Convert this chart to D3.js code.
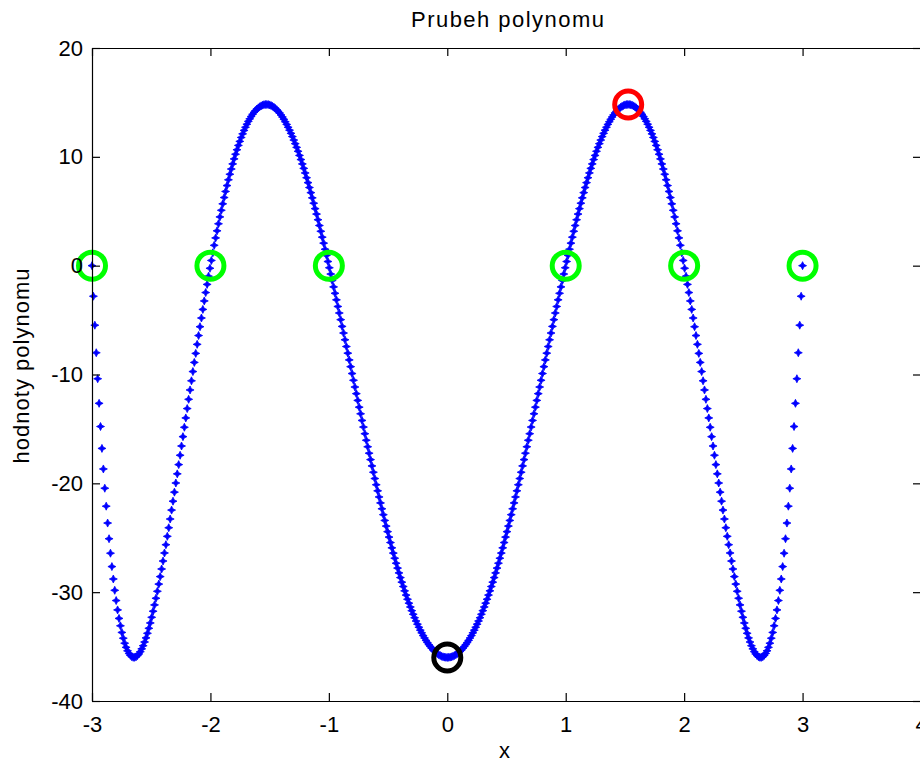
<!DOCTYPE html>
<html>
<head>
<meta charset="utf-8">
<script src="https://cdn.jsdelivr.net/npm/d3@7/dist/d3.min.js"></script>
<style>
  html, body { margin: 0; padding: 0; background: #ffffff; }
  svg { display: block; }
  text { font-family: "Liberation Sans", Arial, sans-serif; fill: #000; }
</style>
</head>
<body>
<svg id="chart" width="920" height="764"></svg>
<script>
// Sample grid: x runs from xStart in steps of xStep, one entry per value below
const xStart = -3;
const xStep = 0.012;

// Polynomial values at each sample (x = -3 ... 3)
const yValues = [
  0, -2.81, -5.47, -8.00, -10.39, -12.65, -14.78, -16.79, -18.68, -20.45, -22.10,
  -23.65, -25.09, -26.42, -27.65, -28.79, -29.83, -30.77, -31.63, -32.41, -33.09,
  -33.70, -34.23, -34.69, -35.07, -35.39, -35.63, -35.81, -35.93, -35.99, -35.99,
  -35.94, -35.83, -35.67, -35.47, -35.21, -34.92, -34.58, -34.20, -33.78, -33.32,
  -32.83, -32.31, -31.75, -31.17, -30.56, -29.92, -29.26, -28.57, -27.87, -27.14,
  -26.40, -25.64, -24.87, -24.08, -23.28, -22.46, -21.64, -20.81, -19.97, -19.13,
  -18.28, -17.42, -16.57, -15.71, -14.85, -13.99, -13.13, -12.28, -11.42, -10.58,
  -9.73, -8.89, -8.06, -7.23, -6.42, -5.61, -4.81, -4.02, -3.24, -2.47,
  -1.72, -0.97, -0.24, 0.48, 1.18, 1.87, 2.55, 3.20, 3.85, 4.48,
  5.09, 5.68, 6.26, 6.82, 7.36, 7.89, 8.40, 8.88, 9.35, 9.81,
  10.24, 10.65, 11.05, 11.42, 11.78, 12.11, 12.43, 12.72, 13.00, 13.26,
  13.49, 13.71, 13.91, 14.09, 14.25, 14.39, 14.50, 14.60, 14.68, 14.75,
  14.79, 14.81, 14.81, 14.80, 14.77, 14.71, 14.64, 14.56, 14.45, 14.33,
  14.18, 14.03, 13.85, 13.66, 13.45, 13.22, 12.98, 12.72, 12.45, 12.16,
  11.86, 11.54, 11.21, 10.87, 10.51, 10.13, 9.75, 9.35, 8.94, 8.52,
  8.08, 7.63, 7.18, 6.71, 6.23, 5.74, 5.24, 4.74, 4.22, 3.69,
  3.16, 2.62, 2.07, 1.51, 0.95, 0.38, -0.19, -0.77, -1.36, -1.95,
  -2.54, -3.14, -3.75, -4.35, -4.96, -5.58, -6.19, -6.81, -7.43, -8.04,
  -8.66, -9.28, -9.91, -10.53, -11.15, -11.76, -12.38, -13.00, -13.61, -14.22,
  -14.83, -15.44, -16.04, -16.64, -17.23, -17.82, -18.40, -18.98, -19.56, -20.13,
  -20.69, -21.25, -21.80, -22.34, -22.88, -23.41, -23.93, -24.44, -24.94, -25.44,
  -25.93, -26.41, -26.88, -27.34, -27.79, -28.23, -28.66, -29.08, -29.48, -29.88,
  -30.27, -30.65, -31.01, -31.36, -31.70, -32.03, -32.35, -32.65, -32.94, -33.22,
  -33.49, -33.74, -33.99, -34.21, -34.43, -34.63, -34.82, -34.99, -35.15, -35.30,
  -35.43, -35.55, -35.65, -35.75, -35.82, -35.89, -35.94, -35.97, -35.99,
  -36.00, -35.99, -35.97, -35.94, -35.89, -35.82, -35.75, -35.65, -35.55, -35.43,
  -35.30, -35.15, -34.99, -34.82, -34.63, -34.43, -34.21, -33.99, -33.74, -33.49,
  -33.22, -32.94, -32.65, -32.35, -32.03, -31.70, -31.36, -31.01, -30.65, -30.27,
  -29.88, -29.48, -29.08, -28.66, -28.23, -27.79, -27.34, -26.88, -26.41, -25.93,
  -25.44, -24.94, -24.44, -23.93, -23.41, -22.88, -22.34, -21.80, -21.25, -20.69,
  -20.13, -19.56, -18.98, -18.40, -17.82, -17.23, -16.64, -16.04, -15.44, -14.83,
  -14.22, -13.61, -13.00, -12.38, -11.76, -11.15, -10.53, -9.91, -9.28, -8.66,
  -8.04, -7.43, -6.81, -6.19, -5.58, -4.96, -4.35, -3.75, -3.14, -2.54,
  -1.95, -1.36, -0.77, -0.19, 0.38, 0.95, 1.51, 2.07, 2.62, 3.16,
  3.69, 4.22, 4.74, 5.24, 5.74, 6.23, 6.71, 7.18, 7.63, 8.08,
  8.52, 8.94, 9.35, 9.75, 10.13, 10.51, 10.87, 11.21, 11.54, 11.86,
  12.16, 12.45, 12.72, 12.98, 13.22, 13.45, 13.66, 13.85, 14.03, 14.18,
  14.33, 14.45, 14.56, 14.64, 14.71, 14.77, 14.80, 14.81, 14.81, 14.79,
  14.75, 14.68, 14.60, 14.50, 14.39, 14.25, 14.09, 13.91, 13.71, 13.49,
  13.26, 13.00, 12.72, 12.43, 12.11, 11.78, 11.42, 11.05, 10.65, 10.24,
  9.81, 9.35, 8.88, 8.40, 7.89, 7.36, 6.82, 6.26, 5.68, 5.09,
  4.48, 3.85, 3.20, 2.55, 1.87, 1.18, 0.48, -0.24, -0.97, -1.72,
  -2.47, -3.24, -4.02, -4.81, -5.61, -6.42, -7.23, -8.06, -8.89, -9.73,
  -10.58, -11.42, -12.28, -13.13, -13.99, -14.85, -15.71, -16.57, -17.42, -18.28,
  -19.13, -19.97, -20.81, -21.64, -22.46, -23.28, -24.08, -24.87, -25.64, -26.40,
  -27.14, -27.87, -28.57, -29.26, -29.92, -30.56, -31.17, -31.75, -32.31, -32.83,
  -33.32, -33.78, -34.20, -34.58, -34.92, -35.21, -35.47, -35.67, -35.83, -35.94,
  -35.99, -35.99, -35.93, -35.81, -35.63, -35.39, -35.07, -34.69, -34.23, -33.70,
  -33.09, -32.41, -31.63, -30.77, -29.83, -28.79, -27.65, -26.42, -25.09, -23.65,
  -22.10, -20.45, -18.68, -16.79, -14.78, -12.65, -10.39, -8.00, -5.47, -2.81, 0
];

// Highlighted points: roots, maximum, minimum
const rootsX = [-3, -2, -1, 1, 2, 3];
const rootsY = [0, 0, 0, 0, 0, 0];
const maxPoint = [1.5275, 14.81];
const minPoint = [0, -36];

// Axis ticks and texts
const xTicks = [-3, -2, -1, 0, 1, 2, 3, 4];
const yTicks = [-40, -30, -20, -10, 0, 10, 20];
const titleText = "Prubeh polynomu";
const xLabelText = "x";
const yLabelText = "hodnoty polynomu";

const svg = d3.select("#chart");
const plotLeft = 92, plotRight = 921, plotTop = 48, plotBottom = 701;

const x = d3.scaleLinear().domain([-3, 4]).range([plotLeft, plotRight]);
const y = d3.scaleLinear().domain([-40, 20]).range([plotBottom, plotTop]);

const points = yValues.map((v, i) => ({ x: xStart + i * xStep, y: v }));

// Blue sample markers (small four-pointed stars)
const marker = "M0,-4L1.3,-1.3L4,0L1.3,1.3L0,4L-1.3,1.3L-4,0L-1.3,-1.3Z";
svg.append("g")
  .selectAll("path")
  .data(points)
  .join("path")
  .attr("d", marker)
  .attr("transform", d => `translate(${x(d.x)},${y(d.y)})`)
  .attr("fill", "#0000ff")
  .attr("stroke", "#0000ff")
  .attr("stroke-width", 0.8)
  .attr("stroke-linejoin", "round");

// Root rings (green)
const ringR = 13.5, ringW = 5;
svg.append("g")
  .selectAll("circle")
  .data(rootsX.map((v, i) => [v, rootsY[i]]))
  .join("circle")
  .attr("cx", d => x(d[0]))
  .attr("cy", d => y(d[1]))
  .attr("r", ringR)
  .attr("fill", "none")
  .attr("stroke", "#00ff00")
  .attr("stroke-width", ringW);

// Maximum ring (red) and minimum ring (black)
svg.append("circle")
  .attr("cx", x(maxPoint[0])).attr("cy", y(maxPoint[1]))
  .attr("r", ringR).attr("fill", "none")
  .attr("stroke", "#ff0000").attr("stroke-width", ringW);

svg.append("circle")
  .attr("cx", x(minPoint[0])).attr("cy", y(minPoint[1]))
  .attr("r", ringR).attr("fill", "none")
  .attr("stroke", "#000000").attr("stroke-width", ringW);

// Axes box with inward ticks on all four sides
const fmt = d => String(d);
const tickLen = 8;

const gBottom = svg.append("g")
  .attr("transform", `translate(0,${plotBottom})`)
  .call(d3.axisBottom(x).tickValues(xTicks).tickFormat(fmt)
    .tickSizeInner(-tickLen).tickSizeOuter(0).tickPadding(15));

const gTop = svg.append("g")
  .attr("transform", `translate(0,${plotTop})`)
  .call(d3.axisTop(x).tickValues(xTicks).tickFormat("")
    .tickSizeInner(-tickLen).tickSizeOuter(0));

const gLeft = svg.append("g")
  .attr("transform", `translate(${plotLeft},0)`)
  .call(d3.axisLeft(y).tickValues(yTicks).tickFormat(fmt)
    .tickSizeInner(-tickLen).tickSizeOuter(0).tickPadding(9));

const gRight = svg.append("g")
  .attr("transform", `translate(${plotRight},0)`)
  .call(d3.axisRight(y).tickValues(yTicks).tickFormat("")
    .tickSizeInner(-tickLen).tickSizeOuter(0));

[gBottom, gTop, gLeft, gRight].forEach(g => {
  g.select(".domain").attr("stroke", "#000").attr("stroke-width", 1.2);
  g.selectAll(".tick line").attr("stroke", "#000").attr("stroke-width", 1.2);
  g.selectAll(".tick text")
    .attr("font-family", "'Liberation Sans', Arial, sans-serif")
    .attr("font-size", 22)
    .attr("fill", "#000");
});

// Title and axis labels
svg.append("text")
  .attr("x", (plotLeft + plotRight) / 2 + 1)
  .attr("y", 27)
  .attr("text-anchor", "middle")
  .attr("font-size", 22)
  .attr("textLength", 193)
  .attr("lengthAdjust", "spacing")
  .text(titleText);

svg.append("text")
  .attr("x", (plotLeft + plotRight) / 2 - 2)
  .attr("y", 758)
  .attr("text-anchor", "middle")
  .attr("font-size", 22)
  .text(xLabelText);

svg.append("text")
  .attr("transform", "translate(29,366) rotate(-90)")
  .attr("text-anchor", "middle")
  .attr("font-size", 22)
  .attr("textLength", 195)
  .attr("lengthAdjust", "spacing")
  .text(yLabelText);
</script>
</body>
</html>
